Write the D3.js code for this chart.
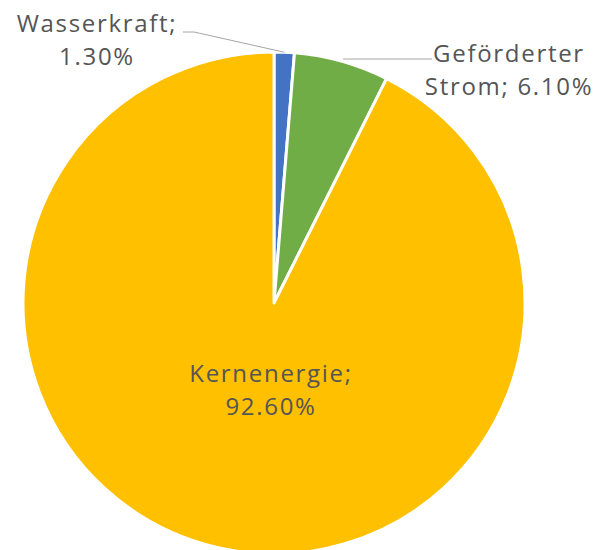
<!DOCTYPE html>
<html>
<head>
<meta charset="utf-8">
<script src="https://cdn.jsdelivr.net/npm/d3@7"></script>
<style>
  body { margin: 0; background: #fff; }
  text { font-family: "Open Sans", sans-serif; fill: #555555; }
</style>
</head>
<body>
<svg id="chart"></svg>
<script>
// data
const categories = ["Wasserkraft", "Geförderter Strom", "Kernenergie"];
const values = [1.3, 6.1, 92.6];
const labelLines = [["Wasserkraft;", "1.30%"], ["Geförderter", "Strom; 6.10%"], ["Kernenergie;", "92.60%"]];
const colors = ["#4472C4", "#70AD47", "#FFC000"];

const width = 603, height = 550;
const cx = 274, cy = 303, radius = 251;

const svg = d3.select("#chart")
    .attr("width", width)
    .attr("height", height);

const g = svg.append("g")
    .attr("transform", "translate(" + cx + "," + cy + ")");

const pie = d3.pie().sort(null).value(d => d);
const arcs = pie(values);

const arc = d3.arc().innerRadius(0).outerRadius(radius);

g.selectAll("path.slice")
    .data(arcs)
    .enter()
    .append("path")
    .attr("class", "slice")
    .attr("d", arc)
    .attr("fill", (d, i) => colors[i])
    .attr("stroke", "#fff")
    .attr("stroke-width", 3)
    .attr("stroke-linejoin", "round");

// label positions (relative to centre)
const labelPos = [
    { x: 97 - cx, y: 32 - cy },
    { x: 509 - cx, y: 62 - cy },
    { x: 271 - cx, y: 382 - cy }
];

// leader lines
const edge = d3.arc().innerRadius(radius).outerRadius(radius);
const leaders = [
    [[183 - cx, 32 - cy], [194 - cx, 32 - cy], edge.centroid(arcs[0])],
    [[432 - cx, 59 - cy], [343 - cx, 59 - cy]]
];
g.selectAll("polyline.leader")
    .data(leaders)
    .enter()
    .append("polyline")
    .attr("class", "leader")
    .attr("points", d => d.map(p => p.join(",")).join(" "))
    .attr("fill", "none")
    .attr("stroke", "#a6a6a6")
    .attr("stroke-width", 1);

const labels = g.selectAll("text.label")
    .data(labelLines)
    .enter()
    .append("text")
    .attr("class", "label")
    .attr("text-anchor", "middle")
    .style("font-size", "24px")
    .style("letter-spacing", "1.7px");

labels.selectAll("tspan")
    .data((d, i) => d.map((t, j) => ({ t: t, i: i, j: j })))
    .enter()
    .append("tspan")
    .attr("x", d => labelPos[d.i].x)
    .attr("y", d => labelPos[d.i].y + d.j * 32.5)
    .text(d => d.t);
</script>
</body>
</html>
